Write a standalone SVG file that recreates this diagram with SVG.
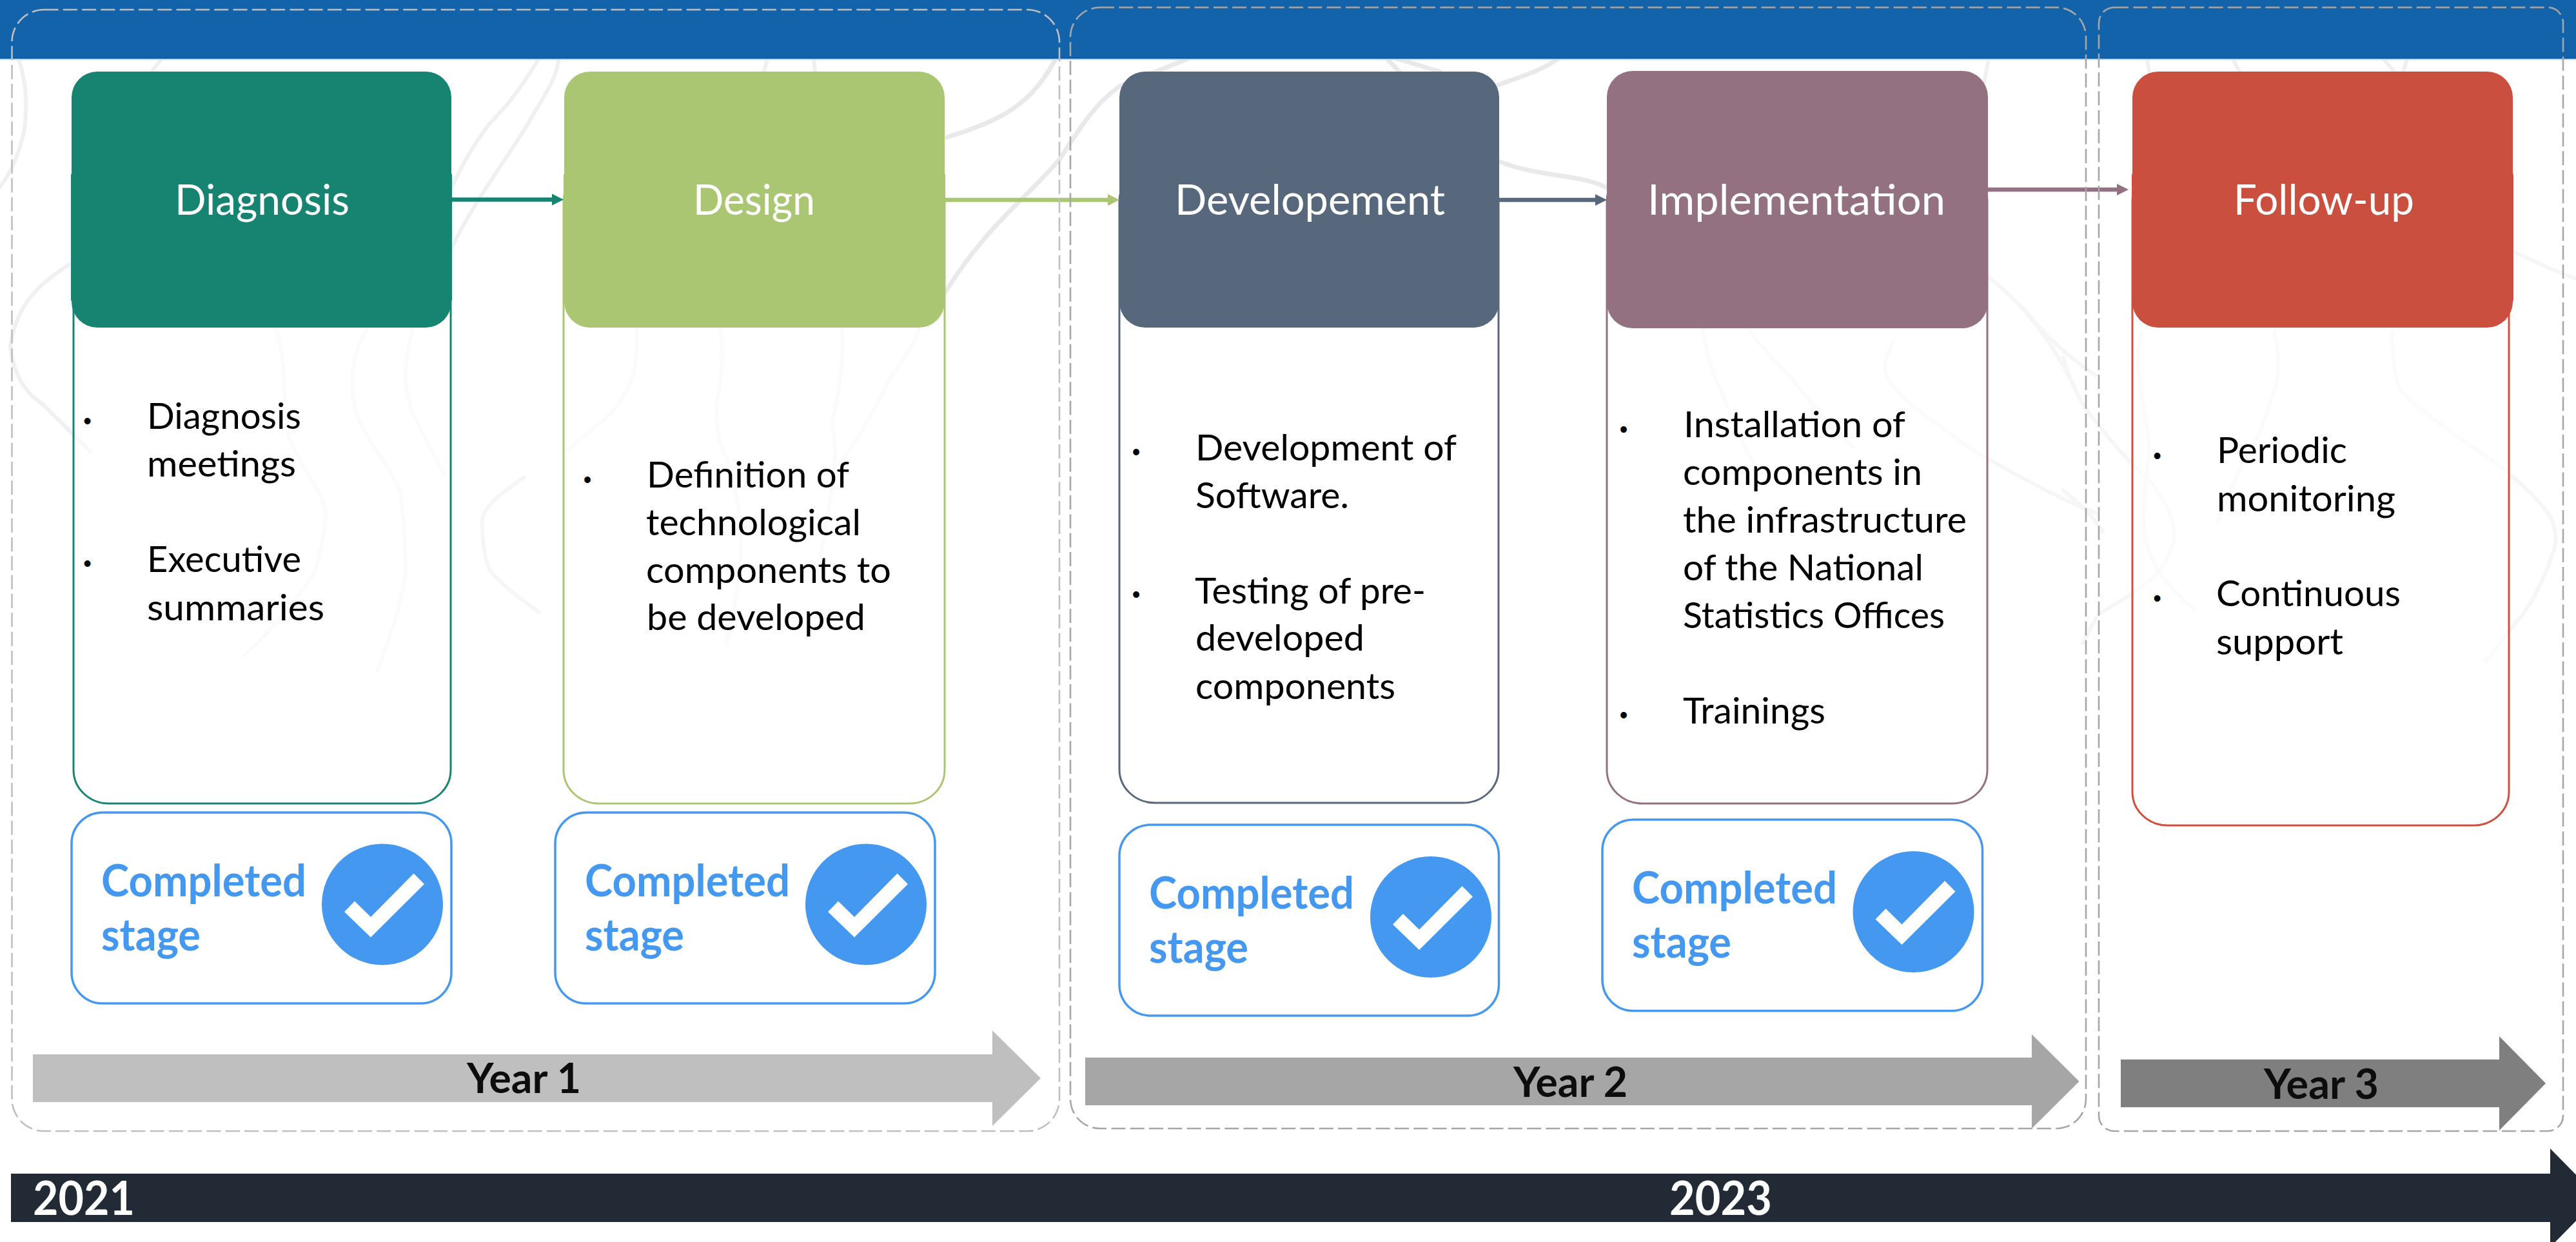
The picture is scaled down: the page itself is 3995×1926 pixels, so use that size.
<svg xmlns="http://www.w3.org/2000/svg" xmlns:xlink="http://www.w3.org/1999/xlink" width="3995" height="1926" viewBox="0 0 3995 1926">
<style>
text{font-family:Lato,"Open Sans",sans-serif}
.bg{fill:#fff}
.c1,.c2,.c3{fill:none;stroke-linecap:round}
.c1{stroke:#e9e9eb;stroke-width:7}
.c2{stroke:#f0f0f2;stroke-width:6}
.c3{stroke:#f6f6f7;stroke-width:6}
.hd{font-size:66px;fill:#fff}
.tx{font-size:57px;fill:#000}
.bu{font-family:"Liberation Sans",sans-serif;font-size:36px;fill:#000;text-anchor:middle}
.st{font-size:69px;font-weight:700;fill:#4598f0}
.yr{font-size:65px;font-weight:700;fill:#0d0d0d}
.dt{font-size:73px;font-weight:700;fill:#fff}
.body{fill:#fff;fill-opacity:.55;stroke-width:3}
.done{fill:#fff;stroke:#4598f0;stroke-width:3.5}
.dash{fill:none;stroke-width:2.6;stroke-dasharray:22 7.3}
.ln{fill:none;stroke-width:6.5}
</style>
<defs>
<marker id="mA" markerUnits="userSpaceOnUse" markerWidth="18" markerHeight="20" refX="2" refY="10" orient="auto"><path d="M0,1L18,10L0,19z" fill="#178472"/></marker>
<marker id="mB" markerUnits="userSpaceOnUse" markerWidth="18" markerHeight="20" refX="2" refY="10" orient="auto"><path d="M0,1L18,10L0,19z" fill="#abc673"/></marker>
<marker id="mC" markerUnits="userSpaceOnUse" markerWidth="18" markerHeight="20" refX="2" refY="10" orient="auto"><path d="M0,1L18,10L0,19z" fill="#57687c"/></marker>
<marker id="mD" markerUnits="userSpaceOnUse" markerWidth="18" markerHeight="20" refX="2" refY="10" orient="auto"><path d="M0,1L18,10L0,19z" fill="#937181"/></marker>
<g id="tick">
<circle cx="0" cy="0" r="94" fill="#4598f0"/>
<polygon points="-59,11.5 -18,51 65,-31.5 48.6,-48 -18,19.5 -43,-5" fill="#fff"/>
</g>
</defs>
<rect class="bg" width="3995" height="1926"/>
<g id="contours">
<path class="c1" d="M1465,214C1560,185 1600,160 1638,90"/>
<path class="c1" d="M1466,453C1530,350 1590,310 1644,246C1680,190 1700,160 1736,134C1780,115 1810,105 1844,90"/>
<path class="c1" d="M2326,251C2390,275 2450,270 2492,291"/>
<path class="c1" d="M2323,132C2360,118 2390,110 2418,90"/>
<path class="c1" d="M2150,90L2170,111M2163,90L2233,111"/>
<path class="c2" d="M835,92C800,150 780,170 759,192C730,230 715,260 701,290"/>
<path class="c2" d="M867,92C860,130 842,150 820,190C790,240 730,320 701,384"/>
<path class="c2" d="M29,92C45,140 40,180 38,200C30,240 15,270 0,290"/>
<path class="c2" d="M108,410C60,440 25,473 16,536C20,580 40,610 64,625C90,650 120,680 140,700"/>
<path class="c2" d="M3083,96L3077,130M3330,92L3333,111M3463,92L3473,111M3697,92L3713,111M3733,92L3727,111M1190,92L1185,111M1262,92L1264,111M250,92L235,111"/>
<path class="c3" d="M3083,429C3110,450 3135,475 3150,494C3180,530 3205,575 3217,600"/>
<path class="c3" d="M3897,390C3930,405 3960,420 3995,432"/>
<path class="c3" d="M428,510C445,560 437,620 450,684C480,750 510,770 504,812C500,850 490,880 488,888C460,930 420,980 379,1016"/>
<path class="c3" d="M569,510C540,560 535,630 575,684C610,740 625,760 623,786C630,830 628,860 629,888C620,950 600,1000 585,1041"/>
<path class="c3" d="M640,510C625,570 625,600 640,640C660,680 675,710 688,735"/>
<path class="c3" d="M813,740C770,770 745,790 748,812C748,840 750,860 759,883C780,910 810,930 835,949"/>
<path class="c3" d="M987,510C990,570 980,600 954,633C930,660 900,680 878,699"/>
<path class="c3" d="M1117,510C1125,560 1115,600 1111,633C1110,670 1120,700 1127,710C1140,760 1150,800 1149,837C1150,900 1135,960 1127,1000"/>
<path class="c3" d="M1306,510C1310,560 1300,610 1290,658C1295,680 1295,700 1295,710C1290,780 1275,840 1268,888"/>
<path class="c3" d="M1426,510C1410,550 1390,570 1377,592C1350,650 1325,690 1301,720"/>
<path class="c3" d="M2640,510C2650,560 2660,590 2670,607C2690,660 2710,710 2732,735"/>
<path class="c3" d="M2711,510C2740,550 2765,570 2783,592C2820,640 2850,670 2874,694"/>
<path class="c3" d="M2936,531C2925,550 2920,570 2925,582C2940,610 2960,625 2977,638C3020,670 3060,700 3099,720C3150,750 3200,775 3250,796"/>
<path class="c3" d="M3140,480C3170,520 3210,555 3250,582"/>
<path class="c3" d="M3200,555C3210,590 3225,620 3240,641C3270,680 3305,720 3337,750C3360,780 3375,810 3372,836C3365,860 3355,880 3342,893C3310,920 3285,935 3256,951C3245,965 3240,980 3230,997"/>
<path class="c3" d="M3200,761C3225,780 3245,800 3261,824"/>
<path class="c3" d="M3322,514C3312,550 3315,570 3317,583C3325,640 3335,680 3332,710C3325,760 3322,810 3327,836C3335,865 3345,880 3352,893C3370,915 3385,930 3403,945"/>
<path class="c3" d="M3527,514C3535,550 3535,570 3530,595C3520,630 3510,660 3499,681C3470,730 3450,780 3438,813"/>
<path class="c3" d="M3710,514C3710,560 3715,585 3722,606C3770,650 3815,680 3859,710C3900,740 3935,770 3955,801C3965,820 3965,840 3961,853C3945,900 3925,940 3900,968C3885,985 3870,1010 3854,1025"/>
</g>
<g id="band"><rect width="3995" height="91" fill="#1363ab"/><rect y="89" width="3995" height="2" fill="#0b5bab"/><rect y="91" width="3995" height="2" fill="#c3d0e6"/></g>
<g id="bodies">
<rect class="body" x="114" y="260" width="585" height="986" rx="55" ry="52" stroke="#178472"/>
<rect class="body" x="874" y="260" width="591" height="986" rx="55" ry="52" stroke="#abc673"/>
<rect class="body" x="1736" y="260" width="588" height="985" rx="55" ry="52" stroke="#57687c"/>
<rect class="body" x="2492" y="260" width="590" height="986" rx="55" ry="52" stroke="#937181"/>
<rect class="body" x="3307" y="260" width="584" height="1020" rx="55" ry="52" stroke="#d24e3e"/>
</g>
<g id="connectors">
<line class="ln" x1="700" y1="309.5" x2="858" y2="309.5" stroke="#178472" marker-end="url(#mA)"/>
<line class="ln" x1="1465" y1="310" x2="1720" y2="310" stroke="#abc673" marker-end="url(#mB)"/>
<line class="ln" x1="2325" y1="310" x2="2476" y2="310" stroke="#57687c" marker-end="url(#mC)"/>
<line class="ln" x1="3083" y1="294" x2="3285" y2="294" stroke="#937181" marker-end="url(#mD)"/>
</g>
<g id="year-1"><polygon points="51,1635 1539,1635 1539,1598 1614,1672 1539,1746 1539,1709 51,1709" fill="#bfbfbf"/><text class="yr" x="724" y="1694.5" textLength="177" lengthAdjust="spacingAndGlyphs">Year 1</text></g>
<g id="year-2"><polygon points="1683,1640 3151,1640 3151,1604 3224.5,1677 3151,1750 3151,1714 1683,1714" fill="#a6a6a6"/><text class="yr" x="2347" y="1701" textLength="177" lengthAdjust="spacingAndGlyphs">Year 2</text></g>
<g id="year-3"><polygon points="3289,1643 3876,1643 3876,1607 3948,1680 3876,1753 3876,1717 3289,1717" fill="#7f7f7f"/><text class="yr" x="3511" y="1704" textLength="178" lengthAdjust="spacingAndGlyphs">Year 3</text></g>
<g id="phases">
<rect class="dash" x="18.5" y="15" width="1624.5" height="1739" rx="50" stroke="#bfbfbf"/>
<rect class="dash" x="1660" y="11.5" width="1575" height="1738.5" rx="46" stroke="#a6a6a6"/>
<rect class="dash" x="3255" y="11.5" width="720" height="1742.5" rx="24" stroke="#a6a6a6"/>
</g>
<g id="diagnosis">
<rect x="110" y="268" width="591" height="200" rx="4" fill="#178472"/>
<rect x="111" y="111" width="589" height="397" rx="40" fill="#178472"/>
<text class="hd" x="271" y="333" textLength="271" lengthAdjust="spacingAndGlyphs">Diagnosis</text>
<text class="bu" x="135.500" y="665">•</text>
<text class="tx" x="228" y="665" textLength="239" lengthAdjust="spacingAndGlyphs">Diagnosis</text>
<text class="tx" x="228" y="739" textLength="231" lengthAdjust="spacingAndGlyphs">meetings</text>
<text class="bu" x="135.500" y="886">•</text>
<text class="tx" x="228" y="887" textLength="239" lengthAdjust="spacingAndGlyphs">Executive</text>
<text class="tx" x="228" y="962" textLength="275" lengthAdjust="spacingAndGlyphs">summaries</text>
</g>
<g id="design">
<rect x="874" y="268" width="592" height="196" rx="4" fill="#abc673"/>
<rect x="875" y="111" width="590" height="397" rx="40" fill="#abc673"/>
<text class="hd" x="1075" y="333" textLength="189" lengthAdjust="spacingAndGlyphs">Design</text>
<text class="bu" x="911" y="756">•</text>
<text class="tx" x="1003" y="756" textLength="314" lengthAdjust="spacingAndGlyphs">Definition of</text>
<text class="tx" x="1002" y="830" textLength="333" lengthAdjust="spacingAndGlyphs">technological</text>
<text class="tx" x="1002" y="904" textLength="380" lengthAdjust="spacingAndGlyphs">components to</text>
<text class="tx" x="1003" y="977" textLength="339" lengthAdjust="spacingAndGlyphs">be developed</text>
</g>
<g id="development">
<rect x="1736" y="111" width="589" height="397" rx="40" fill="#57687c"/>
<text class="hd" x="1822" y="333" textLength="419" lengthAdjust="spacingAndGlyphs">Developement</text>
<text class="bu" x="1762" y="713">•</text>
<text class="tx" x="1854" y="714" textLength="405" lengthAdjust="spacingAndGlyphs">Development of</text>
<text class="tx" x="1854" y="788" textLength="238" lengthAdjust="spacingAndGlyphs">Software.</text>
<text class="bu" x="1762" y="934">•</text>
<text class="tx" x="1853" y="936" textLength="358" lengthAdjust="spacingAndGlyphs">Testing of pre-</text>
<text class="tx" x="1854" y="1009" textLength="262" lengthAdjust="spacingAndGlyphs">developed</text>
<text class="tx" x="1854" y="1083.500" textLength="310" lengthAdjust="spacingAndGlyphs">components</text>
</g>
<g id="implementation">
<rect x="2492" y="110" width="591" height="399" rx="40" fill="#937181"/>
<text class="hd" x="2555" y="333" textLength="462" lengthAdjust="spacingAndGlyphs">Implementation</text>
<text class="bu" x="2518" y="678">•</text>
<text class="tx" x="2611" y="678" textLength="344" lengthAdjust="spacingAndGlyphs">Installation of</text>
<text class="tx" x="2610" y="752" textLength="371" lengthAdjust="spacingAndGlyphs">components in</text>
<text class="tx" x="2610" y="826" textLength="440" lengthAdjust="spacingAndGlyphs">the infrastructure</text>
<text class="tx" x="2610" y="900" textLength="373" lengthAdjust="spacingAndGlyphs">of the National</text>
<text class="tx" x="2610" y="974" textLength="406" lengthAdjust="spacingAndGlyphs">Statistics Offices</text>
<text class="bu" x="2518" y="1121">•</text>
<text class="tx" x="2610" y="1122" textLength="221" lengthAdjust="spacingAndGlyphs">Trainings</text>
</g>
<g id="follow-up">
<rect x="3306" y="268" width="592" height="200" rx="4" fill="#cb4f3e"/>
<rect x="3307" y="111" width="590" height="397" rx="40" fill="#cb4f3e"/>
<text class="hd" x="3464" y="333" textLength="280" lengthAdjust="spacingAndGlyphs">Follow-up</text>
<text class="bu" x="3345.500" y="719">•</text>
<text class="tx" x="3438" y="718" textLength="202" lengthAdjust="spacingAndGlyphs">Periodic</text>
<text class="tx" x="3438" y="793" textLength="277" lengthAdjust="spacingAndGlyphs">monitoring</text>
<text class="bu" x="3345.500" y="940">•</text>
<text class="tx" x="3437" y="940" textLength="286" lengthAdjust="spacingAndGlyphs">Continuous</text>
<text class="tx" x="3437" y="1015" textLength="197" lengthAdjust="spacingAndGlyphs">support</text>
</g>
<g id="completed-1">
<rect class="done" x="111" y="1260" width="589" height="296" rx="48"/>
<text class="st" x="157" y="1390" textLength="318" lengthAdjust="spacingAndGlyphs">Completed</text>
<text class="st" x="157" y="1474" textLength="154" lengthAdjust="spacingAndGlyphs">stage</text>
<use xlink:href="#tick" x="593" y="1402.500"/>
</g>
<g id="completed-2">
<rect class="done" x="861" y="1260" width="589" height="296" rx="48"/>
<text class="st" x="907" y="1390" textLength="318" lengthAdjust="spacingAndGlyphs">Completed</text>
<text class="st" x="907" y="1474" textLength="154" lengthAdjust="spacingAndGlyphs">stage</text>
<use xlink:href="#tick" x="1343" y="1402.500"/>
</g>
<g id="completed-3">
<rect class="done" x="1736" y="1279" width="588.500" height="296" rx="48"/>
<text class="st" x="1782" y="1409" textLength="318" lengthAdjust="spacingAndGlyphs">Completed</text>
<text class="st" x="1782" y="1493" textLength="154" lengthAdjust="spacingAndGlyphs">stage</text>
<use xlink:href="#tick" x="2219" y="1422"/>
</g>
<g id="completed-4">
<rect class="done" x="2485" y="1271" width="589.500" height="296.500" rx="48"/>
<text class="st" x="2531" y="1401" textLength="318" lengthAdjust="spacingAndGlyphs">Completed</text>
<text class="st" x="2531" y="1485" textLength="154" lengthAdjust="spacingAndGlyphs">stage</text>
<use xlink:href="#tick" x="2967.500" y="1414"/>
</g>
<g id="timeline">
<polygon points="17,1820 3955,1820 3955,1781 4030,1857.500 3955,1934 3955,1895 17,1895" fill="#222a35"/>
<text class="dt" x="51" y="1884" textLength="158" lengthAdjust="spacingAndGlyphs">2021</text>
<text class="dt" x="2589" y="1884" textLength="159" lengthAdjust="spacingAndGlyphs">2023</text>
</g>
</svg>
